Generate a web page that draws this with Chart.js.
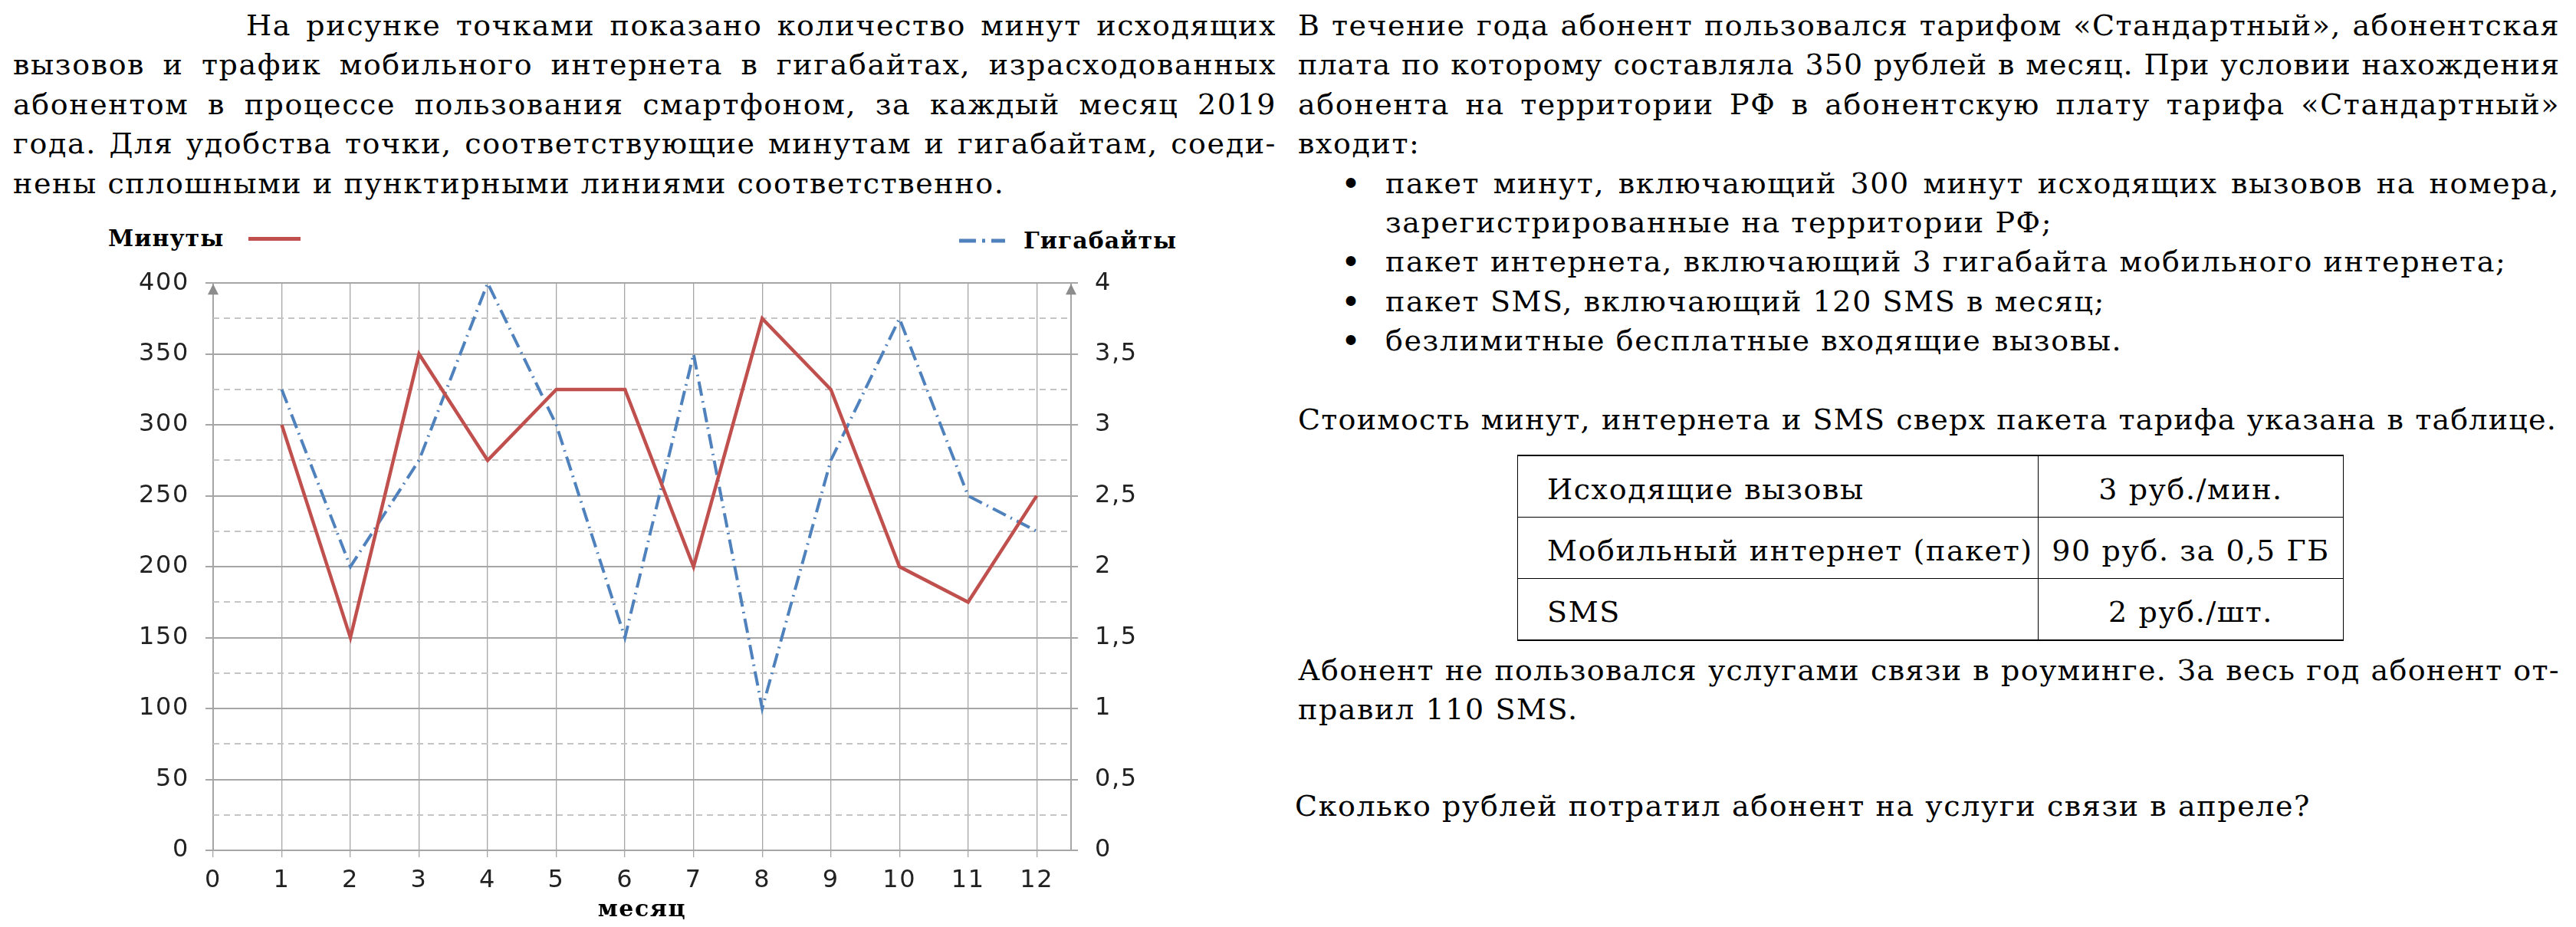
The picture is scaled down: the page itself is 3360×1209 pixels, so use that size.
<!DOCTYPE html>
<html lang="ru">
  <head>
    <meta charset="UTF-8" />
    <title>Минуты и гигабайты</title>
    <script src="https://cdn.jsdelivr.net/npm/chart.js"></script>
    <style>
      body {
        margin: 0;
        width: 3360px;
        height: 1209px;
        overflow: hidden;
        background: #fff;
        position: relative;
        font-family: "DejaVu Serif", serif;
        font-size: 38px;
        letter-spacing: 1.6px;
        color: #000;
      }
      .block {
        position: absolute;
        line-height: 51.4px;
      }
      .ln {
        white-space: nowrap;
        text-align: left;
      }
      .ln.j {
        text-align: justify;
        text-align-last: justify;
      }
      .bul {
        position: relative;
        padding-left: 114px;
      }
      .bul .dot {
        position: absolute;
        left: 56px;
        top: 0;
        font-size: 44px;
      }
      table {
        position: absolute;
        left: 1979px;
        top: 593px;
        border-collapse: collapse;
        font-size: 38px;
      }
      td {
        border: 1.5px solid #000;
        height: 73px;
        padding: 6px 0 0 0;
        white-space: nowrap;
      }
      tr:first-child td { border-top-width: 2px; }
      tr:last-child td { border-bottom-width: 2.5px; }
      td.name { width: 640px; padding-left: 38px; }
      td.price { width: 397px; text-align: center; }
      .legend {
        position: absolute;
        font-weight: bold;
        font-size: 30px;
        letter-spacing: 1px;
        line-height: 36px;
        display: flex;
        align-items: center;
      }
      .chart-box {
        position: absolute;
        left: 100px;
        top: 328px;
        width: 1500px;
        height: 881px;
      }
    </style>
  </head>
  <body>
    <div class="block" style="left: 17px; top: 8px; width: 1648px">
      <div class="ln j" style="padding-left: 304px"><span>На рисунке точками показано количество минут исходящих</span></div>
      <div class="ln j"><span>вызовов и трафик мобильного интернета в гигабайтах, израсходованных</span></div>
      <div class="ln j"><span>абонентом в процессе пользования смартфоном, за каждый месяц 2019</span></div>
      <div class="ln j"><span>года. Для удобства точки, соответствующие минутам и гигабайтам, соеди-</span></div>
      <div class="ln"><span>нены сплошными и пунктирными линиями соответственно.</span></div>
    </div>

    <div class="block" style="left: 1693px; top: 8px; width: 1646px">
      <div class="ln j"><span>В течение года абонент пользовался тарифом «Стандартный», абонентская</span></div>
      <div class="ln j"><span>плата по которому составляла 350 рублей в месяц. При условии нахождения</span></div>
      <div class="ln j"><span>абонента на территории РФ в абонентскую плату тарифа «Стандартный»</span></div>
      <div class="ln"><span>входит:</span></div>
      <div class="bul"><span class="dot">•</span>
        <div class="ln j"><span>пакет минут, включающий 300 минут исходящих вызовов на номера,</span></div>
        <div class="ln"><span>зарегистрированные на территории РФ;</span></div>
      </div>
      <div class="bul"><span class="dot">•</span><div class="ln"><span>пакет интернета, включающий 3 гигабайта мобильного интернета;</span></div></div>
      <div class="bul"><span class="dot">•</span><div class="ln"><span>пакет SMS, включающий 120 SMS в месяц;</span></div></div>
      <div class="bul"><span class="dot">•</span><div class="ln"><span>безлимитные бесплатные входящие вызовы.</span></div></div>
    </div>

    <div class="block" style="left: 1693px; top: 522px; width: 1642px">
      <div class="ln j"><span>Стоимость минут, интернета и SMS сверх пакета тарифа указана в таблице.</span></div>
    </div>

    <table>
      <tr><td class="name">Исходящие вызовы</td><td class="price">3 руб./мин.</td></tr>
      <tr><td class="name">Мобильный интернет (пакет)</td><td class="price">90 руб. за 0,5 ГБ</td></tr>
      <tr><td class="name">SMS</td><td class="price">2 руб./шт.</td></tr>
    </table>

    <div class="block" style="left: 1693px; top: 849px; width: 1646px">
      <div class="ln j"><span>Абонент не пользовался услугами связи в роуминге. За весь год абонент от-</span></div>
      <div class="ln"><span>правил 110 SMS.</span></div>
    </div>

    <div class="block" style="left: 1689px; top: 1026px; width: 1646px">
      <div class="ln"><span>Сколько рублей потратил абонент на услуги связи в апреле?</span></div>
    </div>

    <!-- legend drawn as html, two corners -->
    <div class="legend" style="left: 141px; top: 293px">
      Минуты
      <span style="display: inline-block; width: 68px; height: 5px; background: #c0504d; margin-left: 32px"></span>
    </div>
    <div class="legend" style="left: 1250px; top: 296px">
      <svg width="62" height="8" style="margin-right: 23px">
        <line x1="1" y1="4" x2="61" y2="4" stroke="#4f81bd" stroke-width="5"
              stroke-dasharray="22 8 4 8" stroke-linecap="butt" />
      </svg>
      Гигабайты
    </div>

    <div class="chart-box">
      <canvas id="mixChart"></canvas>
    </div>

    <script>
      // data
      var months = [1, 2, 3, 4, 5, 6, 7, 8, 9, 10, 11, 12];
      var minutes = [300, 150, 350, 275, 325, 325, 200, 375, 325, 200, 175, 250];
      var gigabytes = [3.25, 2, 2.75, 4, 3, 1.5, 3.5, 1, 2.75, 3.75, 2.5, 2.25];
      var minuteMinor = [25, 75, 125, 175, 225, 275, 325, 375];

      // squeeze any line that does not fit its column
      document.querySelectorAll(".ln").forEach(function (el) {
        var span = el.querySelector("span");
        var pad = parseFloat(getComputedStyle(el).paddingLeft) || 0;
        var avail = el.clientWidth - pad;
        var w = span.getBoundingClientRect().width;
        if (w > avail) {
          var n = span.textContent.length;
          span.style.letterSpacing = (1.6 + (avail - w) / n - 0.1) + "px";
        }
      });

      Chart.defaults.font.family = "DejaVu Sans";
      Chart.defaults.color = "#222";

      var gridGray = "#a6a6a6";

      var extras = {
        id: "extras",
        beforeDatasetsDraw: function (chart) {
          var ctx = chart.ctx;
          var area = chart.chartArea;
          var y = chart.scales.y;
          ctx.save();
          ctx.strokeStyle = "#c4c4c4";
          ctx.lineWidth = 2;
          ctx.setLineDash([8, 6]);
          minuteMinor.forEach(function (v) {
            var py = Math.round(y.getPixelForValue(v));
            ctx.beginPath();
            ctx.moveTo(area.left, py);
            ctx.lineTo(area.right, py);
            ctx.stroke();
          });
          ctx.restore();
        },
        afterDraw: function (chart) {
          var ctx = chart.ctx;
          var area = chart.chartArea;
          ctx.save();
          ctx.fillStyle = "#8c8c8c";
          [area.left, area.right].forEach(function (x) {
            ctx.beginPath();
            ctx.moveTo(x, area.top + 1);
            ctx.lineTo(x - 7, area.top + 15);
            ctx.lineTo(x + 7, area.top + 15);
            ctx.closePath();
            ctx.fill();
          });
          ctx.restore();
        },
      };

      new Chart(document.getElementById("mixChart"), {
        type: "line",
        data: {
          datasets: [
            {
              label: "Минуты",
              data: months.map(function (m, i) { return { x: m, y: minutes[i] }; }),
              yAxisID: "y",
              borderColor: "#c0504d",
              borderWidth: 4.5,
              pointRadius: 0,
              tension: 0,
            },
            {
              label: "Гигабайты",
              data: months.map(function (m, i) { return { x: m, y: gigabytes[i] }; }),
              yAxisID: "y2",
              borderColor: "#4f81bd",
              borderWidth: 4,
              borderDash: [19, 7, 2, 7],
              pointRadius: 0,
              tension: 0,
            },
          ],
        },
        options: {
          responsive: true,
          maintainAspectRatio: false,
          animation: false,
          layout: { padding: { top: 25, left: 0, right: 0, bottom: 0 } },
          plugins: { legend: { display: false }, tooltip: { enabled: false } },
          scales: {
            x: {
              type: "linear",
              min: 0,
              max: 12.5,
              afterFit: function (s) { s.height = 100; },
              ticks: {
                stepSize: 1,
                includeBounds: false,
                padding: 11,
                font: { size: 32 },
              },
              grid: { color: gridGray, lineWidth: 1.3, tickLength: 9 },
              border: { color: gridGray, width: 1.3 },
              title: {
                display: true,
                text: "месяц",
                font: { family: "DejaVu Serif", size: 30, weight: "bold" },
                color: "#000",
                padding: { top: 0, bottom: 4 },
              },
            },
            y: {
              position: "left",
              min: 0,
              max: 400,
              afterFit: function (s) { s.width = 178; },
              ticks: { stepSize: 50, padding: 21, font: { size: 32 } },
              grid: { color: gridGray, lineWidth: 2, tickLength: 10 },
              border: { color: gridGray, width: 2 },
            },
            y2: {
              position: "right",
              min: 0,
              max: 4,
              afterFit: function (s) { s.width = 203; },
              ticks: {
                stepSize: 0.5,
                padding: 22,
                font: { size: 32 },
                callback: function (v) { return String(v).replace(".", ","); },
              },
              grid: { drawOnChartArea: false, color: gridGray, lineWidth: 2, tickLength: 9 },
              border: { color: gridGray, width: 2 },
            },
          },
        },
        plugins: [extras],
      });
    </script>
  </body>
</html>
